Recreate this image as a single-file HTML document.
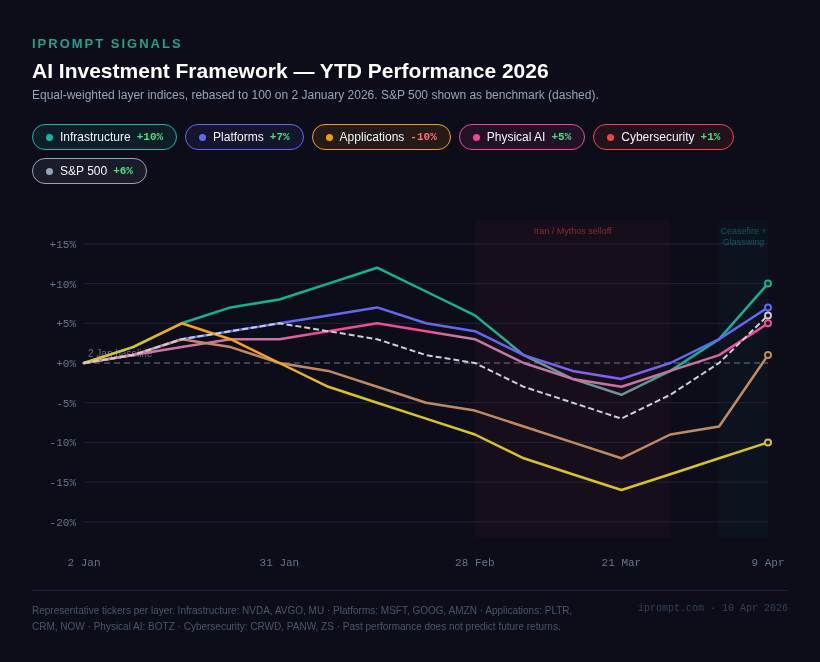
<!DOCTYPE html>
<html lang="en"><head><meta charset="utf-8"><title>AI Investment Framework — YTD Performance 2026</title>
<style>
*{box-sizing:border-box;margin:0;padding:0}
html,body{width:820px;height:662px;overflow:hidden}
body{background:#0d0d1a;font-family:"Liberation Sans",sans-serif;color:#fff;position:relative}
.brand{position:absolute;left:32px;top:36px;font-size:13px;line-height:15px;font-weight:700;letter-spacing:2px;color:#2a9d8f;text-transform:uppercase}
h1{position:absolute;left:32px;top:58px;font-size:21px;line-height:26px;font-weight:700;color:#fff;white-space:nowrap}
.sub{position:absolute;left:32px;top:87px;font-size:12px;line-height:16px;color:#94a3b8;white-space:nowrap}
.legend{position:absolute;left:32px;top:124px;width:756px;display:flex;flex-wrap:wrap;gap:8px 8px}
.pill{display:inline-flex;align-items:center;height:26px;padding:0 13px 0 13px;border:1px solid;border-radius:14px;font-size:12px;white-space:nowrap}
.pill i{width:7px;height:7px;border-radius:50%;margin-right:7px;display:block}
.pill b{font-weight:400;color:#f1f5f9}
.pill em{font-style:normal;font-family:"Liberation Mono",monospace;font-weight:700;font-size:11px;margin-left:6px}
.up{color:#4ade80}.dn{color:#f87171}
.chart{position:absolute;left:32px;top:210px}
.ax{font-family:"Liberation Mono",monospace;font-size:11px;fill:#64748b}
.ann{font-family:"Liberation Sans",sans-serif;font-size:9px}
.foot{position:absolute;left:32px;top:590px;width:756px;border-top:1px solid #1e1e3a;padding-top:12px;display:flex;justify-content:space-between;align-items:flex-start}
.foot p{font-size:10px;line-height:16px;color:#475569;width:560px}
.foot span{font-family:"Liberation Mono",monospace;font-size:10px;line-height:14px;color:#334155;white-space:nowrap;margin-top:-1px}
</style></head><body>
<div class="brand">iPrompt Signals</div>
<h1>AI Investment Framework — YTD Performance 2026</h1>
<div class="sub">Equal-weighted layer indices, rebased to 100 on 2 January 2026. S&amp;P 500 shown as benchmark (dashed).</div>
<div class="legend"><span class="pill" style="border-color:#14b8a6;background:#14b8a61a"><i style="background:#14b8a6"></i><b>Infrastructure</b><em class="up">+10%</em></span><span class="pill" style="border-color:#6366f1;background:#6366f11a"><i style="background:#6366f1"></i><b>Platforms</b><em class="up">+7%</em></span><span class="pill" style="border-color:#f59e0b;background:#f59e0b1a"><i style="background:#f59e0b"></i><b>Applications</b><em class="dn">-10%</em></span><span class="pill" style="border-color:#ec4899;background:#ec48991a"><i style="background:#ec4899"></i><b>Physical AI</b><em class="up">+5%</em></span><span class="pill" style="border-color:#ef4444;background:#ef44441a"><i style="background:#ef4444"></i><b>Cybersecurity</b><em class="up">+1%</em></span><span class="pill" style="border-color:#94a3b8;background:#94a3b81a"><i style="background:#94a3b8"></i><b>S&amp;P 500</b><em class="up">+6%</em></span></div>
<svg class="chart" width="756" height="370" viewBox="32 210 756 370">
<defs>
<linearGradient id="gA" gradientUnits="userSpaceOnUse" x1="84" y1="0" x2="768" y2="0">
<stop offset="0" stop-color="#d6c42c"/><stop offset="0.07" stop-color="#d6c42c"/><stop offset="0.13" stop-color="#f5a21a"/><stop offset="0.25" stop-color="#f5a21a"/><stop offset="0.33" stop-color="#e3b91f"/><stop offset="0.4" stop-color="#d9c322"/><stop offset="1" stop-color="#d9c322"/>
</linearGradient>
<linearGradient id="gC" gradientUnits="userSpaceOnUse" x1="84" y1="0" x2="768" y2="0">
<stop offset="0" stop-color="#e0808a"/><stop offset="0.14" stop-color="#d48468"/><stop offset="0.22" stop-color="#c08860"/><stop offset="1" stop-color="#c08a62"/>
</linearGradient>
<linearGradient id="gP" gradientUnits="userSpaceOnUse" x1="84" y1="0" x2="768" y2="0">
<stop offset="0" stop-color="#d070ae"/><stop offset="0.28" stop-color="#c777a8"/><stop offset="0.33" stop-color="#ee4c98"/><stop offset="0.5" stop-color="#ee4c98"/><stop offset="0.55" stop-color="#c47aa6"/><stop offset="0.9" stop-color="#c672a4"/><stop offset="0.95" stop-color="#ee4c98"/><stop offset="1" stop-color="#ee4c98"/>
</linearGradient>
<linearGradient id="gI" gradientUnits="userSpaceOnUse" x1="84" y1="0" x2="768" y2="0">
<stop offset="0" stop-color="#12b292"/><stop offset="0.6" stop-color="#12b292"/><stop offset="0.66" stop-color="#6f9396"/><stop offset="0.8" stop-color="#6f9396"/><stop offset="0.86" stop-color="#12b292"/><stop offset="1" stop-color="#12b292"/>
</linearGradient>
<linearGradient id="gL" gradientUnits="userSpaceOnUse" x1="84" y1="0" x2="768" y2="0">
<stop offset="0" stop-color="#6467f0"/><stop offset="0.62" stop-color="#6467f0"/><stop offset="0.7" stop-color="#8262f0"/><stop offset="0.8" stop-color="#8262f0"/><stop offset="0.86" stop-color="#6467f0"/><stop offset="1" stop-color="#6467f0"/>
</linearGradient>
</defs>
<rect x="474.9" y="220" width="195.4" height="317.6" fill="#ef4444" fill-opacity="0.045"/>
<rect x="719.1" y="220" width="48.9" height="317.6" fill="#14b8a6" fill-opacity="0.035"/>
<line x1="84" x2="768" y1="243.9" y2="243.9" stroke="#222238" stroke-width="1"/>
<line x1="84" x2="768" y1="283.6" y2="283.6" stroke="#222238" stroke-width="1"/>
<line x1="84" x2="768" y1="323.3" y2="323.3" stroke="#222238" stroke-width="1"/>
<line x1="84" x2="768" y1="402.7" y2="402.7" stroke="#222238" stroke-width="1"/>
<line x1="84" x2="768" y1="442.4" y2="442.4" stroke="#222238" stroke-width="1"/>
<line x1="84" x2="768" y1="482.1" y2="482.1" stroke="#222238" stroke-width="1"/>
<line x1="84" x2="768" y1="521.8" y2="521.8" stroke="#222238" stroke-width="1"/>
<line x1="84" x2="768" y1="363.0" y2="363.0" stroke="#74748e" stroke-width="1.2" stroke-dasharray="6 4"/>
<text x="76" y="247.9" text-anchor="end" class="ax">+15%</text>
<text x="76" y="287.6" text-anchor="end" class="ax">+10%</text>
<text x="76" y="327.3" text-anchor="end" class="ax">+5%</text>
<text x="76" y="367.0" text-anchor="end" class="ax">+0%</text>
<text x="76" y="406.7" text-anchor="end" class="ax">-5%</text>
<text x="76" y="446.4" text-anchor="end" class="ax">-10%</text>
<text x="76" y="486.1" text-anchor="end" class="ax">-15%</text>
<text x="76" y="525.8" text-anchor="end" class="ax">-20%</text>
<text x="84.0" y="566" text-anchor="middle" class="ax">2 Jan</text>
<text x="279.4" y="566" text-anchor="middle" class="ax">31 Jan</text>
<text x="474.9" y="566" text-anchor="middle" class="ax">28 Feb</text>
<text x="621.4" y="566" text-anchor="middle" class="ax">21 Mar</text>
<text x="768.0" y="566" text-anchor="middle" class="ax">9 Apr</text>
<text x="572.6" y="234" text-anchor="middle" class="ann" fill="#ef4444" fill-opacity="0.52">Iran / Mythos selloff</text>
<text x="743.6" y="234" text-anchor="middle" class="ann" fill="#14b8a6" fill-opacity="0.42">Ceasefire +</text>
<text x="743.6" y="245" text-anchor="middle" class="ann" fill="#14b8a6" fill-opacity="0.42">Glasswing</text>
<text x="88" y="357" class="ann" fill="#6b6b88" style="font-size:10px">2 Jan baseline</text>
<polyline points="84.0,363.0 132.9,347.1 181.7,323.3 230.6,307.4 279.4,299.5 328.3,283.6 377.1,267.7 426.0,291.5 474.9,315.4 523.7,355.1 572.6,378.9 621.4,394.8 670.3,370.9 719.1,339.2 768.0,283.6" fill="none" stroke="url(#gI)" stroke-width="2.5" stroke-linecap="round" stroke-linejoin="round"/>
<polyline points="84.0,363.0 132.9,355.1 181.7,339.2 230.6,331.2 279.4,323.3 328.3,315.4 377.1,307.4 426.0,323.3 474.9,331.2 523.7,355.1 572.6,370.9 621.4,378.9 670.3,363.0 719.1,339.2 768.0,307.4" fill="none" stroke="url(#gL)" stroke-width="2.5" stroke-linecap="round" stroke-linejoin="round"/>
<polyline points="84.0,363.0 132.9,355.1 181.7,347.1 230.6,339.2 279.4,339.2 328.3,331.2 377.1,323.3 426.0,331.2 474.9,339.2 523.7,363.0 572.6,378.9 621.4,386.8 670.3,370.9 719.1,355.1 768.0,323.3" fill="none" stroke="url(#gP)" stroke-width="2.5" stroke-linecap="round" stroke-linejoin="round"/>
<polyline points="84.0,363.0 132.9,355.1 181.7,339.2 230.6,347.1 279.4,363.0 328.3,370.9 377.1,386.8 426.0,402.7 474.9,410.6 523.7,426.5 572.6,442.4 621.4,458.3 670.3,434.5 719.1,426.5 768.0,355.1" fill="none" stroke="url(#gC)" stroke-width="2.5" stroke-linecap="round" stroke-linejoin="round"/>
<polyline points="84.0,363.0 132.9,347.1 181.7,323.3 230.6,339.2 279.4,363.0 328.3,386.8 377.1,402.7 426.0,418.6 474.9,434.5 523.7,458.3 572.6,474.2 621.4,490.0 670.3,474.2 719.1,458.3 768.0,442.4" fill="none" stroke="url(#gA)" stroke-width="2.5" stroke-linecap="round" stroke-linejoin="round"/>
<polyline points="84.0,363.0 132.9,355.1 181.7,339.2 230.6,331.2 279.4,323.3 328.3,331.2 377.1,339.2 426.0,355.1 474.9,363.0 523.7,386.8 572.6,402.7 621.4,418.6 670.3,394.8 719.1,363.0 768.0,315.4" fill="none" stroke="#c9ced9" stroke-dasharray="6 3" stroke-width="2" stroke-linejoin="round"/>
<circle cx="768.0" cy="283.6" r="3" fill="#0d0d1a" stroke="#12b292" stroke-width="2"/>
<circle cx="768.0" cy="307.4" r="3" fill="#0d0d1a" stroke="#6467f0" stroke-width="2"/>
<circle cx="768.0" cy="323.3" r="3" fill="#0d0d1a" stroke="#ee4c98" stroke-width="2"/>
<circle cx="768.0" cy="355.1" r="3" fill="#0d0d1a" stroke="#b88c5c" stroke-width="2"/>
<circle cx="768.0" cy="442.4" r="3" fill="#0d0d1a" stroke="#d4c030" stroke-width="2"/>
<circle cx="768.0" cy="315.4" r="3" fill="#0d0d1a" stroke="#c4c8d2" stroke-width="2"/>
</svg>
<div class="foot"><p>Representative tickers per layer. Infrastructure: NVDA, AVGO, MU · Platforms: MSFT, GOOG, AMZN · Applications: PLTR, CRM, NOW · Physical AI: BOTZ · Cybersecurity: CRWD, PANW, ZS · Past performance does not predict future returns.</p><span>iprompt.com · 10 Apr 2026</span></div>
</body></html>
